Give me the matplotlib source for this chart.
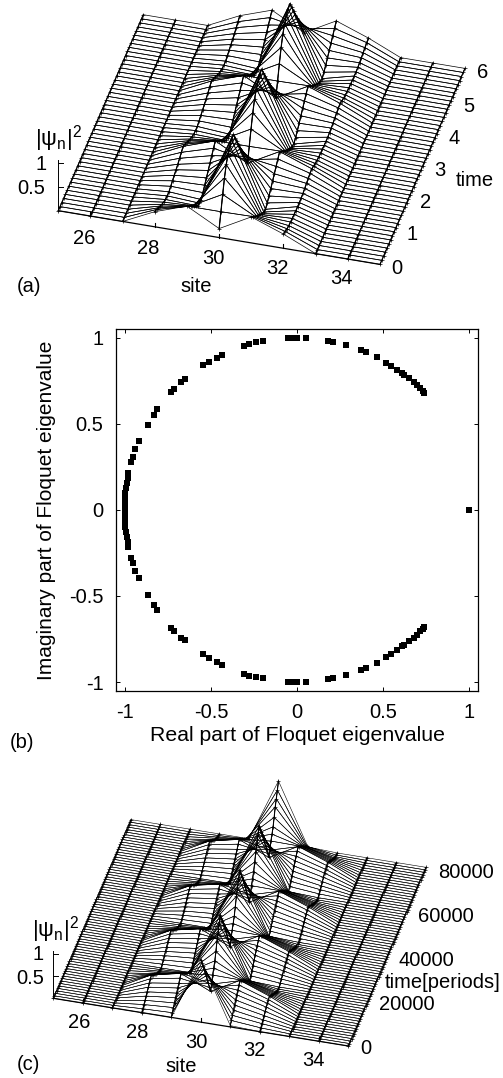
import numpy as np
import matplotlib
matplotlib.use("Agg")
import matplotlib.pyplot as plt
from matplotlib.collections import PolyCollection

plt.rcParams['font.family'] = ['Liberation Sans', 'DejaVu Sans']
plt.rcParams['mathtext.fontset'] = 'custom'
plt.rcParams['mathtext.rm'] = 'Liberation Sans'
plt.rcParams['mathtext.it'] = 'Liberation Sans'
plt.rcParams['mathtext.default'] = 'regular'

# sites on the x axis of panels (a) and (c)
sites = np.arange(25, 36)
flat = {25, 26, 27, 33, 34, 35}

# panel (a): |psi|^2 over one oscillation (time 0..2, 16 samples)
a_site28 = [.32, .28, .23, .18, .13, .09, .06, .05, .05, .08, .11, .14, .17, .20, .24, .28]
a_site29 = [.55, .46, .38, .29, .20, .12, .04, .01, 0, .06, .13, .20, .27, .34, .41, .48]
a_site30 = [.19, .46, .74, 1.0, 1.2, 1.33, 1.42, 1.47, 1.49, 1.33, 1.17, 1.0, .84, .68, .51, .35]
a_site31 = [.55, .47, .39, .31, .24, .17, .10, .05, .02, .07, .13, .20, .27, .34, .41, .48]
a_site32 = [.30, .27, .24, .22, .21, .20, .20, .19, .19, .19, .20, .21, .23, .25, .27, .29]
a_periods = 3
a_tmax = 6

# panel (c): same, one period of 20000 (18 samples)
c_site28 = [0, .03, .07, .11, .15, .19, .24, .28, .32, .35, .30, .25, .20, .15, .10, .07, .04, .02]
c_site29 = [0, .05, .11, .16, .22, .27, .33, .38, .44, .49, .44, .38, .33, .27, .21, .16, .10, .05]
c_site30 = [1.42, 1.29, 1.16, 1.03, .90, .77, .63, .49, .34, .19, .30, .45, .55, .66, .82, 1.0, 1.13, 1.27]
c_site31 = [.03, .09, .15, .21, .27, .33, .39, .44, .50, .55, .49, .44, .38, .33, .27, .21, .16, .10]
c_site32 = [0, .03, .07, .10, .14, .18, .22, .25, .28, .30, .26, .22, .18, .14, .10, .06, .03, .01]
c_periods = 4
c_tmax = 80000

# panel (b): upper half of the Floquet eigenvalues, the lower half is the conjugate
eig_re = [.738, .730, .714, .695, .676, .647, .623, .608, .579, .544, .517, .463, .401,
          .370, .285, .207, .182, .052, -.002, -.031, -.056, -.196, -.238, -.277, -.308,
          -.438, -.467, -.511, -.544, -.651, -.676, -.714, -.734, -.811, -.834, -.869,
          -.920, -.939, -.955, -.962, -.980, -.985, -.991, -.995, -.999, -1.0, -1.0, -1.0]
eig_im = [.679, .691, .706, .727, .745, .764, .783, .793, .812, .838, .855, .888, .919,
          .928, .959, .977, .983, .999, .999, .999, .998, .979, .973, .963, .954,
          .899, .884, .861, .839, .758, .743, .704, .685, .584, .553, .495,
          .397, .354, .309, .280, .213, .184, .155, .126, .097, .068, .039, .010]
eig_single_re = [1.0]
eig_single_im = [0.0]
eig_ticks = [-1, -0.5, 0, 0.5, 1]
eig_ticklabels = ['-1', '-0.5', '0', '0.5', '1']


def build_surface(columns, periods):
	n = len(columns[28])
	rows = n * periods + 1
	z = np.zeros((rows, len(sites)))
	for j, s in enumerate(sites):
		if s in flat:
			continue
		z[:, j] = (list(columns[s]) * periods + [columns[s][0]])
	return z


def make_projection(origin, site_vec, time_vec, zscale, tmax):
	def project(s, t, z):
		s = np.asarray(s, dtype=float) - 25
		t = np.asarray(t, dtype=float) / tmax
		z = np.asarray(z, dtype=float)
		x = origin[0] + s * site_vec[0] + t * time_vec[0]
		y = origin[1] + s * site_vec[1] + t * time_vec[1] - z * zscale
		return x, y
	return project


def draw_surface(ax, z, tmax, project, lw, ms, site_lw):
	times = np.linspace(0, tmax, z.shape[0])
	ss, tt = np.meshgrid(sites, times)
	px, py = project(ss, tt, z)
	quads = []
	for i in range(z.shape[0] - 2, -1, -1):
		for j in range(z.shape[1] - 1):
			quads.append([(px[i, j], py[i, j]), (px[i, j+1], py[i, j+1]),
				(px[i+1, j+1], py[i+1, j+1]), (px[i+1, j], py[i+1, j])])
	ax.add_collection(PolyCollection(quads, facecolors='none', edgecolors='black',
		linewidths=lw, zorder=5))
	# the lines along time look heavier, the crosses sit on them
	ax.plot(px, py, color='black', lw=site_lw, zorder=5.5)
	ax.plot(px.ravel(), py.ravel(), ls='none', marker='+', ms=ms, mew=0.5, color='black', zorder=6)


def draw_frame(ax, project, ticklen):
	x, y = project([25, 35], [0, 0], [0, 0])
	ax.plot(x, y, color='black', lw=0.9, zorder=1)
	for s in [26, 28, 30, 32, 34]:
		x, y = project(s, 0, 0)
		ax.plot([x, x], [y, y - ticklen], color='black', lw=0.8, zorder=1)
	x, y = project(25, 0, 0)
	x1, y1 = project(25, 0, 1.07)
	ax.plot([x, x1], [y, y1], color='black', lw=0.7, zorder=1)
	for val in [0.5, 1]:
		x, y = project(25, 0, val)
		ax.plot([x, x + 5], [y, y], color='black', lw=0.7, zorder=1)


fig = plt.figure(figsize=(5.03, 10.78), dpi=100)
canvas = fig.add_axes([0, 0, 1, 1])
canvas.set_xlim(0, 503)
canvas.set_ylim(1078, 0)
canvas.axis('off')

# (a)
a_cols = {28: a_site28, 29: a_site29, 30: a_site30, 31: a_site31, 32: a_site32}
z_a = build_surface(a_cols, a_periods)
proj_a = make_projection((58.3, 210.7), (32.17, 5.37), (85.0, -196.0), 47.3, a_tmax)
draw_frame(canvas, proj_a, 4)
draw_surface(canvas, z_a, a_tmax, proj_a, 0.5, 2.6, 0.85)

fs = 14.5
for s, xt, yt in zip([26, 28, 30, 32, 34], [84, 148, 213, 277, 341], [238, 248, 258, 269, 279]):
	canvas.text(xt, yt, str(s), fontsize=fs, ha='center', va='center')
for t, xt, yt in zip(range(7), [397, 412, 426, 440, 454, 469, 483], [268, 235, 203, 171, 138, 106, 73]):
	canvas.text(xt, yt, str(t), fontsize=fs, ha='center', va='center')
canvas.text(475, 181, 'time', fontsize=fs, ha='center', va='center')
canvas.text(196, 287, 'site', fontsize=fs, ha='center', va='center')
canvas.text(29, 286, '(a)', fontsize=fs, ha='center', va='center')
canvas.text(41, 164, '1', fontsize=fs, ha='center', va='center')
canvas.text(31, 189, '0.5', fontsize=fs, ha='center', va='center')
canvas.text(58, 139, r'$|\psi_n|^2$', fontsize=fs + 1.5, ha='center', va='center')

# (c)
c_cols = {28: c_site28, 29: c_site29, 30: c_site30, 31: c_site31, 32: c_site32}
z_c = build_surface(c_cols, c_periods)
proj_c = make_projection((53.3, 998.3), (29.5, 4.77), (77.67, -178.67), 44.0, c_tmax)
draw_frame(canvas, proj_c, 4)
draw_surface(canvas, z_c, c_tmax, proj_c, 0.4, 2.2, 0.75)

for s, xt, yt in zip([26, 28, 30, 32, 34], [79, 137, 196, 254, 313], [1022, 1032, 1042, 1051, 1061]):
	canvas.text(xt, yt, str(s), fontsize=fs, ha='center', va='center')
for lab, xt, yt in zip(['0', '20000', '40000', '60000', '80000'],
		[360, 379, 399, 418, 438], [1049, 1005, 961, 917, 872]):
	canvas.text(xt, yt, lab, fontsize=fs, ha='left', va='center')
canvas.text(385, 983, 'time[periods]', fontsize=fs, ha='left', va='center')
canvas.text(181, 1067, 'site', fontsize=fs, ha='center', va='center')
canvas.text(28, 1064, '(c)', fontsize=fs, ha='center', va='center')
canvas.text(38, 955, '1', fontsize=fs, ha='center', va='center')
canvas.text(30, 978, '0.5', fontsize=fs, ha='center', va='center')
canvas.text(55, 930, r'$|\psi_n|^2$', fontsize=fs + 1.5, ha='center', va='center')
canvas.text(22, 742, '(b)', fontsize=fs, ha='center', va='center')

# (b)
ax = fig.add_axes([116 / 503, 1 - 690.7 / 1078, (478.3 - 116) / 503, (690.7 - 329) / 1078])
re = np.array(eig_re)
im = np.array(eig_im)
ax.plot(re, im, ls='none', marker='s', ms=4.6, mew=0, color='black')
ax.plot(re, -im, ls='none', marker='s', ms=4.6, mew=0, color='black')
ax.plot(eig_single_re, eig_single_im, ls='none', marker='s', ms=4.6, mew=0, color='black')
ax.set_xlim(-1.052, 1.052)
ax.set_ylim(-1.05, 1.05)
ax.set_xticks(eig_ticks)
ax.set_xticklabels(eig_ticklabels)
ax.set_yticks(eig_ticks)
ax.set_yticklabels(eig_ticklabels)
ax.tick_params(direction='in', top=True, right=True, length=3, width=0.7, labelsize=fs, pad=9)
ax.set_xlabel('Real part of Floquet eigenvalue', fontsize=15.3, labelpad=3)
ax.set_ylabel('Imaginary part of Floquet eigenvalue', fontsize=15, labelpad=9)
for sp in ax.spines.values():
	sp.set_linewidth(0.9)

fig.savefig('out.png', dpi=100)
